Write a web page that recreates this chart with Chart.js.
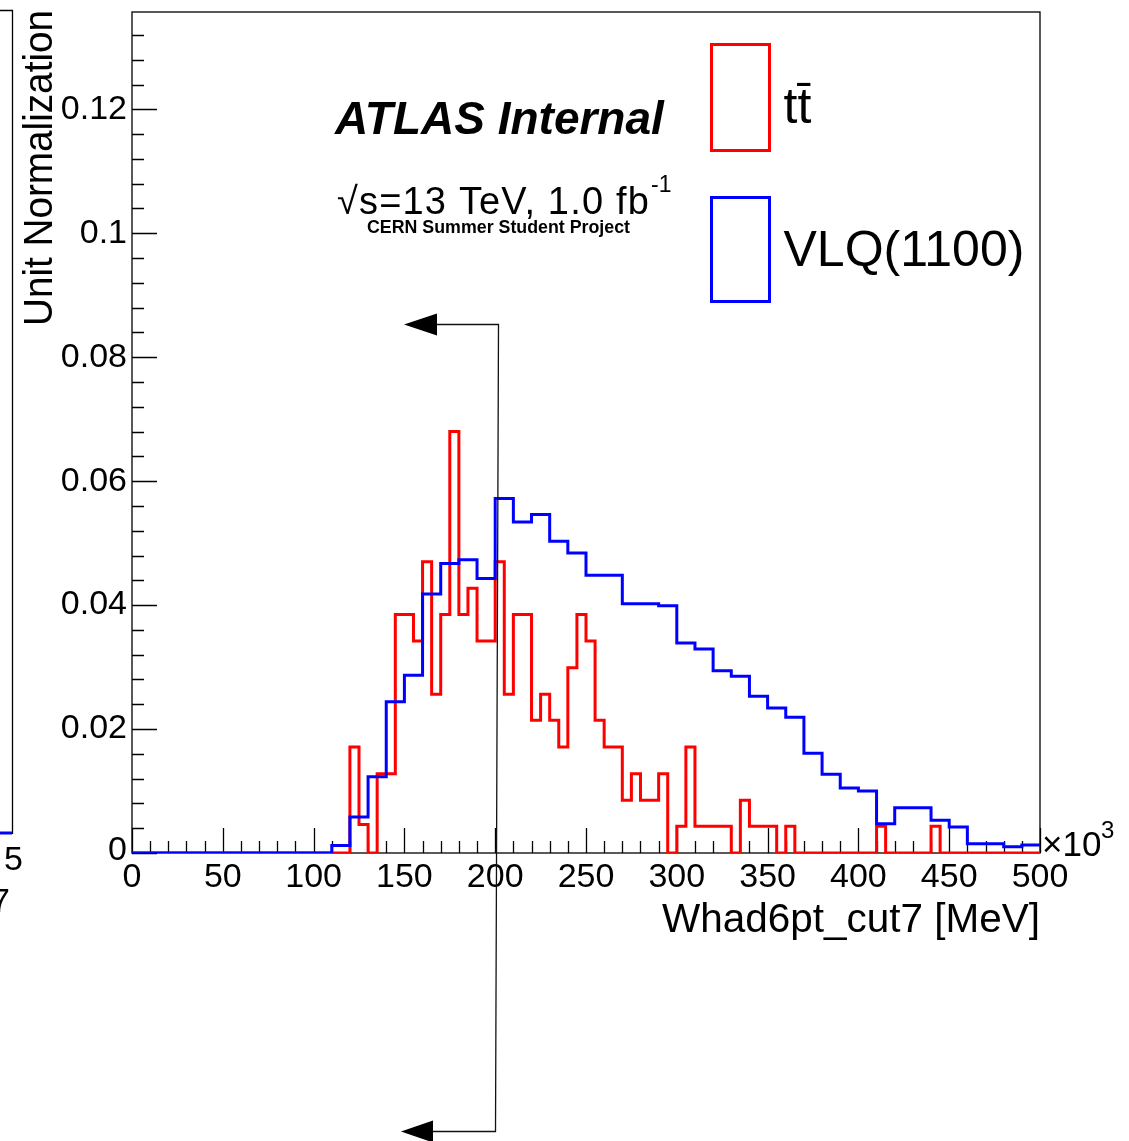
<!DOCTYPE html>
<html>
<head>
<meta charset="utf-8">
<script src="https://cdn.jsdelivr.net/npm/chart.js@4.4.0/dist/chart.umd.min.js"></script>
<style>
  html, body { margin: 0; padding: 0; background: #fff; }
  canvas { display: block; }
</style>
</head>
<body>
<canvas id="hist" width="1129" height="1141"></canvas>
<script>
// Whad6pt_cut7 distribution, unit normalised (x in units of 10^3 MeV)
const xMin = 0;
const xMax = 500;
const yMax = 0.1357;

// ttbar: 5 GeV bins starting at 0
const ttBinWidth = 5;
const ttValues = [
  0, 0, 0, 0, 0, 0, 0, 0, 0, 0,
  0, 0, 0, 0, 0, 0, 0, 0, 0, 0,
  0, 0, 0, 0, 0.0171, 0.0046, 0, 0.0128, 0.0128, 0.0385,
  0.0385, 0.0342, 0.0470, 0.0256, 0.0385, 0.0680, 0.0385, 0.0427, 0.0342, 0.0342,
  0.0470, 0.0256, 0.0385, 0.0385, 0.0214, 0.0256, 0.0214, 0.0171, 0.0299, 0.0385,
  0.0342, 0.0214, 0.0171, 0.0171, 0.0085, 0.0128, 0.0085, 0.0085, 0.0128, 0,
  0.0043, 0.0171, 0.0043, 0.0043, 0.0043, 0.0043, 0, 0.0085, 0.0043, 0.0043,
  0.0043, 0, 0.0043, 0, 0, 0, 0, 0, 0, 0,
  0, 0, 0.0043, 0, 0, 0, 0, 0, 0.0043, 0,
  0, 0, 0, 0, 0, 0, 0, 0, 0, 0
];

// VLQ(1100): 10 GeV bins starting at 0
const vlqBinWidth = 10;
const vlqValues = [
  0, 0, 0, 0, 0, 0, 0, 0, 0, 0,
  0, 0.0012, 0.0058, 0.0123, 0.0244, 0.0287, 0.0418, 0.0467, 0.0473, 0.0443,
  0.0572, 0.0534, 0.0546, 0.0503, 0.0484, 0.0448, 0.0448, 0.0402, 0.0402, 0.0399,
  0.0339, 0.0329, 0.0294, 0.0285, 0.0253, 0.0234, 0.0219, 0.0161, 0.0127, 0.0105,
  0.0100, 0.0047, 0.0073, 0.0073, 0.0053, 0.0042, 0.0015, 0.0015, 0.0010, 0.0013
];

const xTickLabels = ['0', '50', '100', '150', '200', '250', '300', '350', '400', '450', '500'];
const yTickLabels = ['0', '0.02', '0.04', '0.06', '0.08', '0.1', '0.12'];

// bin contents -> step outline points (left edges, plus closing point at xMax)
function toSteps(values, width) {
  const pts = values.map((v, i) => ({ x: xMin + i * width, y: v }));
  pts.push({ x: xMax, y: values[values.length - 1] });
  return pts;
}

const FONT = '"Liberation Sans", Arial, Helvetica, sans-serif';

// ROOT-like frame, inward ticks, labels, legend and annotations
const rootStyle = {
  id: 'rootStyle',
  beforeDatasetsDraw(chart) {
    const ctx = chart.ctx;
    const xs = chart.scales.x, ys = chart.scales.y;
    const { left, right, top, bottom } = chart.chartArea;
    ctx.save();
    ctx.strokeStyle = '#000';
    ctx.lineWidth = 1.3;
    ctx.strokeRect(left, top, right - left, bottom - top);

    // y ticks
    ctx.beginPath();
    for (let k = 0; k * 0.004 <= yMax + 1e-9; k++) {
      const y = Math.round(ys.getPixelForValue(k * 0.004)) + 0.5;
      const len = k % 5 === 0 ? 25 : 12;
      ctx.moveTo(left, y);
      ctx.lineTo(left + len, y);
    }
    // x ticks
    for (let k = 0; k * 10 <= xMax; k++) {
      const x = Math.round(xs.getPixelForValue(k * 10)) + 0.5;
      const len = k % 5 === 0 ? 25 : 12;
      ctx.moveTo(x, bottom);
      ctx.lineTo(x, bottom - len);
    }
    ctx.stroke();
    ctx.restore();
  },
  afterDraw(chart) {
    const ctx = chart.ctx;
    const xs = chart.scales.x, ys = chart.scales.y;
    const { left, right, top, bottom } = chart.chartArea;
    ctx.save();
    ctx.fillStyle = '#000';

    // y tick labels
    ctx.font = '34px ' + FONT;
    ctx.textAlign = 'right';
    ctx.textBaseline = 'middle';
    yTickLabels.forEach((t, i) => {
      const y = ys.getPixelForValue(i * 0.02);
      ctx.fillText(t, left - 5, i === 0 ? y - 2 : y);
    });

    // x tick labels
    ctx.textAlign = 'center';
    xTickLabels.forEach((t, i) => {
      ctx.fillText(t, xs.getPixelForValue(i * 50), bottom + 25);
    });

    // exponent
    ctx.textAlign = 'left';
    ctx.textBaseline = 'alphabetic';
    ctx.font = '35px ' + FONT;
    ctx.fillText('\u00d710', right + 2, bottom + 3);
    ctx.font = '24px ' + FONT;
    ctx.fillText('3', right + 61, bottom - 15);

    // axis titles
    ctx.font = '41px ' + FONT;
    ctx.textAlign = 'right';
    ctx.fillText('Whad6pt_cut7 [MeV]', right, bottom + 79, 378);
    ctx.save();
    ctx.translate(52, top - 2);
    ctx.rotate(-Math.PI / 2);
    ctx.fillText('Unit Normalization', 0, 0, 316);
    ctx.restore();

    // ATLAS label
    ctx.textAlign = 'left';
    ctx.font = 'italic bold 46px ' + FONT;
    ctx.fillText('ATLAS Internal', 335, 134, 330);
    ctx.font = '38px ' + FONT;
    ctx.letterSpacing = '1.2px';
    const energy = '\u221As=13 TeV, 1.0 fb';
    const ew = Math.min(ctx.measureText(energy).width, 313);
    ctx.fillText(energy, 337, 214, 313);
    ctx.letterSpacing = '0px';
    ctx.font = '23px ' + FONT;
    ctx.fillText('-1', 337 + ew + 1, 192);
    ctx.font = 'bold 18px ' + FONT;
    ctx.fillText('CERN Summer Student Project', 367, 233, 263);

    // legend
    ctx.lineWidth = 3;
    chart.data.datasets.forEach(ds => {
      const b = ds.legendBox;
      ctx.strokeStyle = ds.borderColor;
      ctx.strokeRect(b[0], b[1], b[2], b[3]);
      ctx.font = '50px ' + FONT;
      ctx.fillText(ds.label, b[0] + 72, b[1] + b[4]);
    });

    // neighbouring pad edge on the left
    ctx.lineWidth = 1.3;
    ctx.strokeStyle = '#000';
    ctx.beginPath();
    ctx.moveTo(0, 10.5);
    ctx.lineTo(12.5, 10.5);
    ctx.lineTo(12.5, 834);
    ctx.stroke();
    ctx.strokeStyle = '#0000ff';
    ctx.lineWidth = 3;
    ctx.beginPath();
    ctx.moveTo(0, 833);
    ctx.lineTo(12, 833);
    ctx.stroke();
    ctx.font = '34px ' + FONT;
    ctx.fillText('5', 4, 870);
    ctx.fillText('7', -9, 912);

    // connector arrows
    ctx.strokeStyle = '#111';
    ctx.fillStyle = '#000';
    ctx.lineWidth = 1.3;
    ctx.beginPath();
    ctx.moveTo(437, 324.5);
    ctx.lineTo(498.5, 324.5);
    ctx.lineTo(495.5, 1131.5);
    ctx.lineTo(433, 1131.5);
    ctx.stroke();
    [[404, 437, 324.5], [401, 433, 1131.5]].forEach(([tip, base, y]) => {
      ctx.beginPath();
      ctx.moveTo(tip, y);
      ctx.lineTo(base, y - 11);
      ctx.lineTo(base, y + 11);
      ctx.closePath();
      ctx.fill();
    });
    ctx.restore();
  }
};

new Chart(document.getElementById('hist'), {
  type: 'line',
  data: {
    datasets: [
      {
        label: 'VLQ(1100)',
        data: toSteps(vlqValues, vlqBinWidth),
        borderColor: '#0000ff',
        legendBox: [711.5, 197.5, 58, 104, 68],
      },
      {
        label: 'tt\u0304',
        data: toSteps(ttValues, ttBinWidth),
        borderColor: '#ff0000',
        legendBox: [711.5, 44.5, 58, 106, 78],
      }
    ]
  },
  options: {
    responsive: false,
    animation: false,
    devicePixelRatio: 1,
    layout: { padding: { left: 132, right: 89, top: 12, bottom: 288 } },
    elements: {
      line: { borderWidth: 3, stepped: true, tension: 0, fill: false },
      point: { radius: 0, hoverRadius: 0 }
    },
    scales: {
      x: { type: 'linear', min: xMin, max: xMax, display: false },
      y: { type: 'linear', min: 0, max: yMax, display: false }
    },
    plugins: {
      legend: { display: false },
      tooltip: { enabled: false }
    }
  },
  plugins: [rootStyle]
});
</script>
</body>
</html>
